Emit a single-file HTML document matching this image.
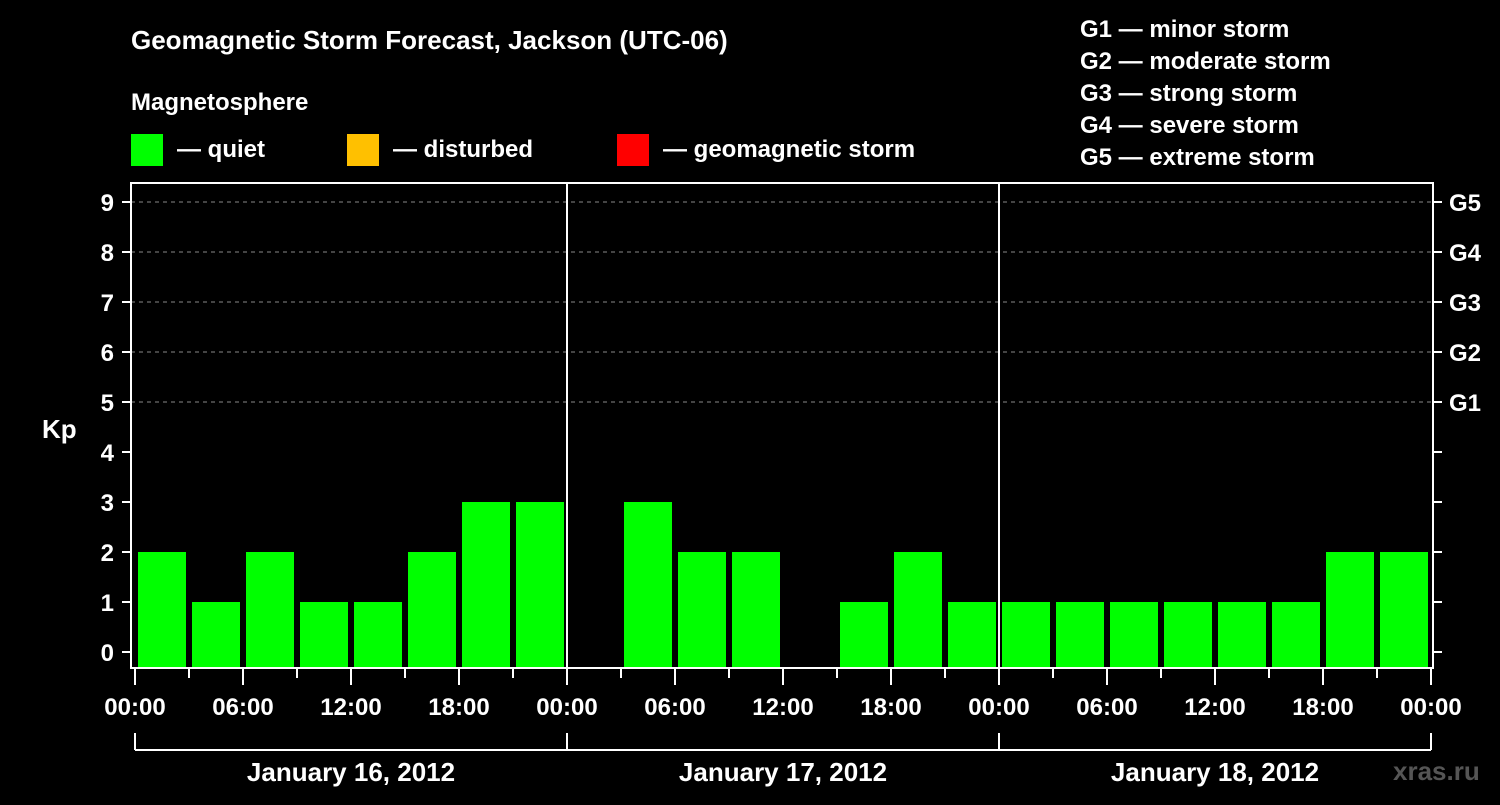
<!DOCTYPE html>
<html><head><meta charset="utf-8"><style>
body{margin:0;background:#000;width:1500px;height:800px;overflow:hidden}
svg text{font-family:"Liberation Sans",Arial,sans-serif;font-weight:bold;fill:#fff}
</style></head><body>
<svg id="c" width="1500" height="800" xmlns="http://www.w3.org/2000/svg">
<text x="131" y="49" font-size="26">Geomagnetic Storm Forecast, Jackson (UTC-06)</text>
<text x="131" y="110" font-size="24">Magnetosphere</text>
<g><rect x="131" y="134" width="32" height="32" fill="#00ff00"/><text x="177" y="157" font-size="24">— quiet</text></g>
<g><rect x="347" y="134" width="32" height="32" fill="#ffc000"/><text x="393" y="157" font-size="24">— disturbed</text></g>
<g><rect x="617" y="134" width="32" height="32" fill="#ff0000"/><text x="663" y="157" font-size="24">— geomagnetic storm</text></g>
<g font-size="24">
<text x="1080" y="37">G1 — minor storm</text><text x="1080" y="69">G2 — moderate storm</text><text x="1080" y="101">G3 — strong storm</text><text x="1080" y="133">G4 — severe storm</text><text x="1080" y="165">G5 — extreme storm</text></g>
<text x="42" y="438" font-size="26">Kp</text>
<text x="1393" y="780" font-size="26" fill="#555" style="fill:#555">xras.ru</text>
<g id="grid"></g><g id="bars"></g><g id="axes"></g>
</svg>
<script>
const days=["January 16, 2012","January 17, 2012","January 18, 2012"];
const kpValues=[2,1,2,1,1,2,3,3, 0,3,2,2,0,1,2,1, 1,1,1,1,1,1,2,2];
const yTicks=[0,1,2,3,4,5,6,7,8,9];
const gLabels=["G1","G2","G3","G4","G5"];
const hourLabels=["00:00","06:00","12:00","18:00"];
const NS="http://www.w3.org/2000/svg";
const x0=135,dayW=432,slotW=dayW/8;
const y=v=>652-v*50;
const xs=i=>x0+i*slotW;
function mk(p,t,a){const e=document.createElementNS(NS,t);for(const k in a)e.setAttribute(k,a[k]);p.appendChild(e);return e;}
const grid=document.getElementById('grid'),bars=document.getElementById('bars'),axes=document.getElementById('axes');
[5,6,7,8,9].forEach(v=>{const l=mk(grid,'line',{x1:131,x2:1433,y1:y(v),y2:y(v),stroke:'#888','stroke-dasharray':'4,4','stroke-width':1});

});
kpValues.forEach((v,i)=>{if(v<=0)return;const col=v>=5?'#ff0000':v>=4?'#ffc000':'#00ff00';
const r=mk(bars,'rect',{x:xs(i)+3,y:y(v),width:slotW-6,height:667-y(v),fill:col});

});
const fr=mk(axes,'rect',{x:131,y:183,width:1302,height:485,fill:'none',stroke:'#fff','stroke-width':2});


for(let d=1;d<days.length;d++){mk(axes,'line',{x1:x0+d*dayW,x2:x0+d*dayW,y1:183,y2:668,stroke:'#fff','stroke-width':2});}
yTicks.forEach(v=>{mk(axes,'line',{x1:122,x2:131,y1:y(v),y2:y(v),stroke:'#fff','stroke-width':2});
mk(axes,'line',{x1:1433,x2:1442,y1:y(v),y2:y(v),stroke:'#fff','stroke-width':2});
const t=mk(axes,'text',{x:114,y:y(v)+9,'font-size':24,'text-anchor':'end'});t.textContent=v;

});
gLabels.forEach((g,i)=>{const t=mk(axes,'text',{x:1449,y:y(5+i)+9,'font-size':24});t.textContent=g;

});
for(let i=0;i<=days.length*8;i++){const maj=i%2==0;mk(axes,'line',{x1:xs(i),x2:xs(i),y1:669,y2:maj?685:678,stroke:'#fff','stroke-width':2});
if(maj){const t=mk(axes,'text',{x:xs(i),y:715,'font-size':24,'text-anchor':'middle'});t.textContent=hourLabels[(i/2)%4];

}}
mk(axes,'line',{x1:x0,x2:x0+days.length*dayW,y1:750,y2:750,stroke:'#fff','stroke-width':2});
for(let d=0;d<=days.length;d++)mk(axes,'line',{x1:x0+d*dayW,x2:x0+d*dayW,y1:733,y2:750,stroke:'#fff','stroke-width':2});
days.forEach((s,d)=>{const t=mk(axes,'text',{x:x0+d*dayW+dayW/2,y:781,'font-size':26,'text-anchor':'middle'});t.textContent=s;

});
</script>
</body></html>
